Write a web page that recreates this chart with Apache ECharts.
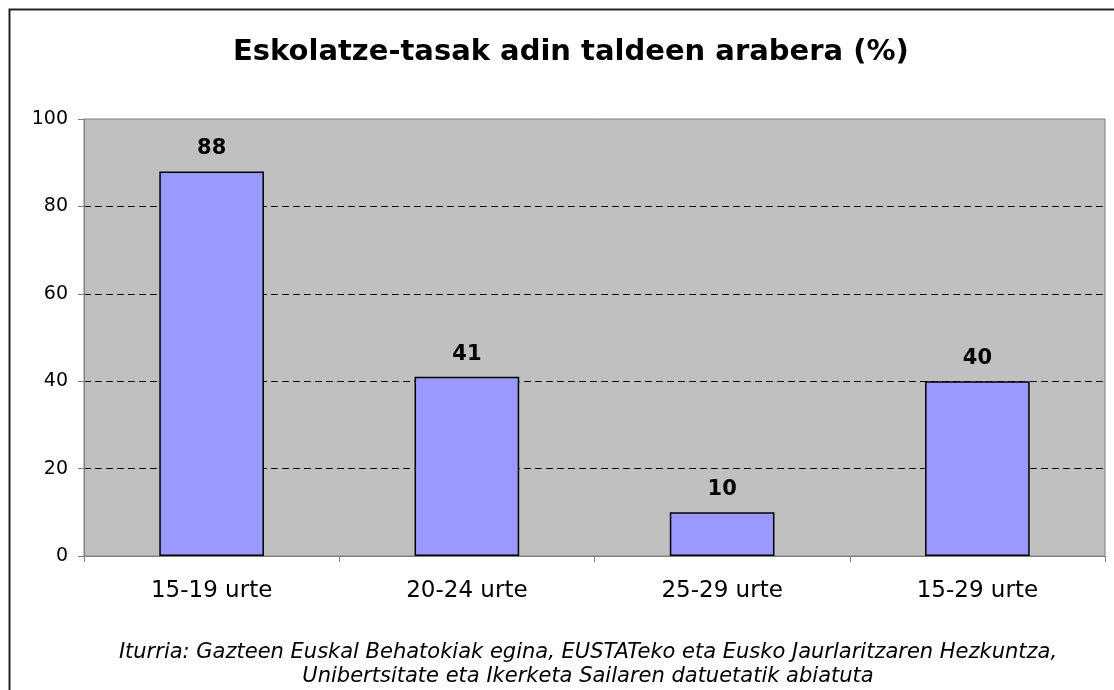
<!DOCTYPE html>
<html>
<head>
<meta charset="utf-8">
<script src="https://cdn.jsdelivr.net/npm/echarts@6/dist/echarts.min.js"></script>
<style>
  html, body { margin: 0; padding: 0; background: #fff; }
  #chart { width: 1114px; height: 690px; }
</style>
</head>
<body>
<div id="chart"></div>
<script>
const categories = ['15-19 urte', '20-24 urte', '25-29 urte', '15-29 urte']
const rates = [88, 41, 10, 40]
const yTicks = [0, 20, 40, 60, 80, 100]

const chart = echarts.init(document.getElementById('chart'))

const font = 'Verdana, "DejaVu Sans", sans-serif'

const option = {
  backgroundColor: '#fff',
  animation: false,
  title: {
    text: 'Eskolatze-tasak adin taldeen arabera (%)',
    left: 228,
    top: 33,
    textStyle: {
      fontFamily: font,
      fontSize: 29,
      fontWeight: 'bold',
      color: '#000'
    }
  },
  grid: {
    left: 84,
    right: 9,
    top: 119,
    bottom: 134,
    show: true,
    backgroundColor: '#c0c0c0',
    borderColor: '#808080',
    borderWidth: 1
  },
  xAxis: {
    type: 'category',
    data: categories,
    axisLine: { lineStyle: { color: '#808080', width: 1 } },
    axisTick: { show: true, length: 6, lineStyle: { color: '#808080' } },
    axisLabel: {
      margin: 24,
      fontFamily: font,
      fontSize: 23,
      color: '#000'
    }
  },
  yAxis: {
    type: 'value',
    min: yTicks[0],
    max: yTicks[yTicks.length - 1],
    interval: 20,
    axisLine: { show: true, lineStyle: { color: '#808080', width: 1 } },
    axisTick: { show: true, length: 6, lineStyle: { color: '#808080' } },
    axisLabel: {
      margin: 16,
      fontFamily: font,
      fontSize: 19,
      color: '#000'
    },
    splitLine: {
      show: true,
      showMinLine: false,
      showMaxLine: false,
      lineStyle: { color: '#000', type: [7, 4], width: 1 }
    }
  },
  series: [
    {
      type: 'bar',
      data: rates,
      barWidth: '41%',
      itemStyle: {
        color: '#9999ff',
        borderColor: '#000',
        borderWidth: 1.5
      },
      label: {
        show: true,
        position: 'top',
        distance: 12,
        fontFamily: font,
        fontSize: 21,
        fontWeight: 'bold',
        color: '#000'
      }
    }
  ],
  graphic: [
    {
      type: 'rect',
      shape: { x: 9.5, y: 9.5, width: 1200, height: 800 },
      style: { fill: 'none', stroke: '#222', lineWidth: 2 },
      silent: true
    },
    {
      type: 'text',
      x: 588,
      y: 641,
      style: {
        text: 'Iturria: Gazteen Euskal Behatokiak egina, EUSTATeko eta Eusko Jaurlaritzaren Hezkuntza,\nUnibertsitate eta Ikerketa Sailaren datuetatik abiatuta',
        align: 'center',
        verticalAlign: 'top',
        fontFamily: font,
        fontSize: 21,
        fontStyle: 'italic',
        lineHeight: 24,
        fill: '#000'
      }
    }
  ]
}

chart.setOption(option)
window.addEventListener('resize', () => chart.resize())
</script>
</body>
</html>
